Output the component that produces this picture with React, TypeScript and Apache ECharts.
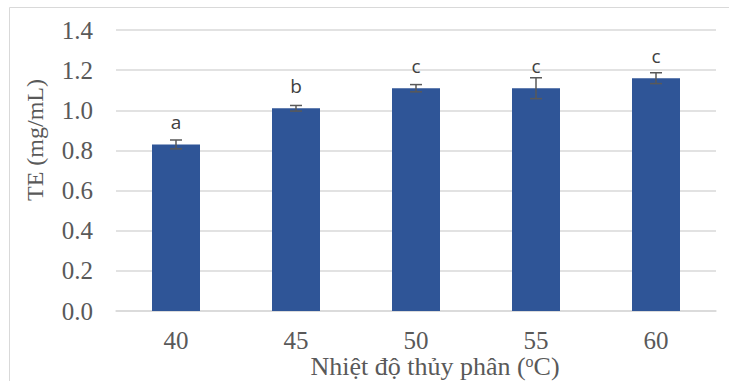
import React, { useEffect, useRef } from "react";
import * as echarts from "echarts";

const categories = ["40", "45", "50", "55", "60"];
const values = [0.83, 1.01, 1.11, 1.11, 1.16];
const errors = [0.022, 0.014, 0.018, 0.052, 0.027];
const letters = ["a", "b", "c", "c", "c"];
const yTicks = { min: 0, max: 1.4, interval: 0.2 };

export default function App() {
  const ref = useRef<HTMLDivElement>(null);
  useEffect(() => {
    if (!ref.current) return;
    const chart = echarts.init(ref.current, undefined, { renderer: "svg" });
    const serif = "Liberation Serif";
    chart.setOption({
      animation: false,
      grid: { left: 116, right: 13, top: 30, bottom: 70, containLabel: false },
      xAxis: {
        type: "category",
        data: categories,
        axisTick: { show: false },
        axisLine: { lineStyle: { color: "#d9d9d9", width: 1.5 } },
        axisLabel: { fontFamily: serif, fontSize: 25, color: "#595959", margin: 17 },
      },
      yAxis: {
        type: "value",
        min: yTicks.min,
        max: yTicks.max,
        interval: yTicks.interval,
        axisLine: { show: false },
        axisTick: { show: false },
        splitLine: { lineStyle: { color: "#d9d9d9", width: 1.5 } },
        axisLabel: {
          fontFamily: serif,
          fontSize: 25,
          color: "#595959",
          margin: 23,
          formatter: (v: number) => v.toFixed(1),
        },
      },
      graphic: [
        {
          type: "rect",
          shape: { x: 9.5, y: 7.5, width: 760, height: 420 },
          style: { fill: "none", stroke: "#d9d9d9", lineWidth: 1 },
          silent: true,
        },
        {
          type: "text",
          x: 35,
          y: 140,
          rotation: Math.PI / 2,
          style: {
            text: "TE (mg/mL)",
            font: "24px " + serif,
            fill: "#595959",
            align: "center",
            verticalAlign: "middle",
          },
        },
        {
          type: "text",
          x: 435,
          y: 366,
          style: {
            text: "Nhiệt độ thủy phân ({sup|o}C)",
            font: "26px " + serif,
            fill: "#595959",
            align: "center",
            verticalAlign: "middle",
            rich: {
              sup: {
                fontSize: 16,
                fontFamily: serif,
                fill: "#595959",
                padding: [0, 0, 10, 0],
              },
            },
          },
        },
      ],
      series: [
        {
          type: "bar",
          data: values,
          barWidth: "40%",
          itemStyle: { color: "#2F5597" },
          label: {
            show: true,
            position: "top",
            distance: 13,
            formatter: (p: any) => letters[p.dataIndex],
            fontFamily: "Open Sans",
            fontSize: 19,
            color: "#404040",
          },
        },
        {
          type: "custom",
          data: values.map((v, i) => [i, v - errors[i], v + errors[i]]),
          renderItem: (params: any, api: any) => {
            const lo = api.coord([api.value(0), api.value(1)]);
            const hi = api.coord([api.value(0), api.value(2)]);
            const half = 6;
            const style = { stroke: "#595959", lineWidth: 1.5 };
            return {
              type: "group",
              children: [
                { type: "line", shape: { x1: lo[0], y1: lo[1], x2: hi[0], y2: hi[1] }, style },
                { type: "line", shape: { x1: lo[0] - half, y1: lo[1], x2: lo[0] + half, y2: lo[1] }, style },
                { type: "line", shape: { x1: hi[0] - half, y1: hi[1], x2: hi[0] + half, y2: hi[1] }, style },
              ],
            };
          },
          z: 10,
        },
      ],
    });
    return () => chart.dispose();
  }, []);
  return (
    <div
      ref={ref}
      style={{ position: "fixed", left: 0, top: 0, width: 729, height: 381, background: "#fff" }}
    />
  );
}
